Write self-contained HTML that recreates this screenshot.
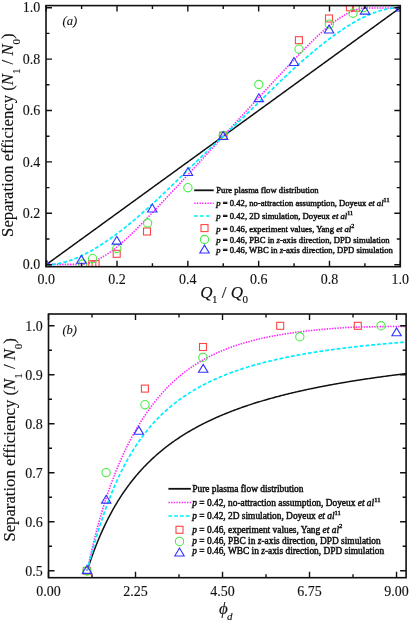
<!DOCTYPE html><html><head><meta charset="utf-8"><style>
html,body{margin:0;padding:0;background:#fff;width:410px;height:621px;overflow:hidden}
svg{display:block}
text{font-family:"Liberation Serif","Times New Roman",serif;fill:#111;stroke:#111;stroke-width:0.12px}
.tk{font-size:14px}
.lg{font-size:8.65px;stroke:#111;stroke-width:0.45px}
</style></head><body>
<svg width="410" height="621" viewBox="0 0 410 621">
<rect width="410" height="621" fill="#fff"/>
<polyline points="46.20,264.70 47.09,264.06 47.97,263.41 48.86,262.77 49.75,262.12 50.64,261.48 51.52,260.84 52.41,260.19 53.30,259.55 54.19,258.90 55.07,258.26 55.96,257.61 56.85,256.97 57.74,256.33 58.62,255.68 59.51,255.04 60.40,254.39 61.29,253.75 62.17,253.11 63.06,252.46 63.95,251.82 64.84,251.17 65.72,250.53 66.61,249.89 67.50,249.24 68.39,248.60 69.27,247.95 70.16,247.31 71.05,246.66 71.94,246.02 72.82,245.38 73.71,244.73 74.60,244.09 75.49,243.44 76.37,242.80 77.26,242.16 78.15,241.51 79.04,240.87 79.92,240.22 80.81,239.58 81.70,238.94 82.59,238.29 83.47,237.65 84.36,237.00 85.25,236.36 86.14,235.72 87.02,235.07 87.91,234.43 88.80,233.78 89.69,233.14 90.57,232.49 91.46,231.85 92.35,231.21 93.24,230.56 94.12,229.92 95.01,229.27 95.90,228.63 96.79,227.99 97.67,227.34 98.56,226.70 99.45,226.05 100.34,225.41 101.22,224.77 102.11,224.12 103.00,223.48 103.89,222.83 104.77,222.19 105.66,221.54 106.55,220.90 107.44,220.26 108.32,219.61 109.21,218.97 110.10,218.32 110.99,217.68 111.87,217.04 112.76,216.39 113.65,215.75 114.54,215.10 115.42,214.46 116.31,213.82 117.20,213.17 118.08,212.53 118.97,211.88 119.86,211.24 120.75,210.59 121.63,209.95 122.52,209.31 123.41,208.66 124.30,208.02 125.18,207.37 126.07,206.73 126.96,206.09 127.85,205.44 128.73,204.80 129.62,204.15 130.51,203.51 131.40,202.87 132.28,202.22 133.17,201.58 134.06,200.93 134.95,200.29 135.83,199.64 136.72,199.00 137.61,198.36 138.50,197.71 139.38,197.07 140.27,196.42 141.16,195.78 142.05,195.14 142.93,194.49 143.82,193.85 144.71,193.20 145.60,192.56 146.48,191.92 147.37,191.27 148.26,190.63 149.15,189.98 150.03,189.34 150.92,188.69 151.81,188.05 152.70,187.41 153.58,186.76 154.47,186.12 155.36,185.47 156.25,184.83 157.13,184.19 158.02,183.54 158.91,182.90 159.80,182.25 160.68,181.61 161.57,180.97 162.46,180.32 163.35,179.68 164.23,179.03 165.12,178.39 166.01,177.75 166.90,177.10 167.78,176.46 168.67,175.81 169.56,175.17 170.45,174.52 171.33,173.88 172.22,173.24 173.11,172.59 174.00,171.95 174.88,171.30 175.77,170.66 176.66,170.02 177.55,169.37 178.43,168.73 179.32,168.08 180.21,167.44 181.10,166.80 181.98,166.15 182.87,165.51 183.76,164.86 184.65,164.22 185.53,163.57 186.42,162.93 187.31,162.29 188.19,161.64 189.08,161.00 189.97,160.35 190.86,159.71 191.74,159.07 192.63,158.42 193.52,157.78 194.41,157.13 195.29,156.49 196.18,155.85 197.07,155.20 197.96,154.56 198.84,153.91 199.73,153.27 200.62,152.62 201.51,151.98 202.39,151.34 203.28,150.69 204.17,150.05 205.06,149.40 205.94,148.76 206.83,148.12 207.72,147.47 208.61,146.83 209.49,146.18 210.38,145.54 211.27,144.90 212.16,144.25 213.04,143.61 213.93,142.96 214.82,142.32 215.71,141.67 216.59,141.03 217.48,140.39 218.37,139.74 219.26,139.10 220.14,138.45 221.03,137.81 221.92,137.17 222.81,136.52 223.69,135.88 224.58,135.23 225.47,134.59 226.36,133.95 227.24,133.30 228.13,132.66 229.02,132.01 229.91,131.37 230.79,130.73 231.68,130.08 232.57,129.44 233.46,128.79 234.34,128.15 235.23,127.50 236.12,126.86 237.01,126.22 237.89,125.57 238.78,124.93 239.67,124.28 240.56,123.64 241.44,123.00 242.33,122.35 243.22,121.71 244.11,121.06 244.99,120.42 245.88,119.78 246.77,119.13 247.66,118.49 248.54,117.84 249.43,117.20 250.32,116.55 251.21,115.91 252.09,115.27 252.98,114.62 253.87,113.98 254.76,113.33 255.64,112.69 256.53,112.05 257.42,111.40 258.31,110.76 259.19,110.11 260.08,109.47 260.97,108.83 261.85,108.18 262.74,107.54 263.63,106.89 264.52,106.25 265.40,105.60 266.29,104.96 267.18,104.32 268.07,103.67 268.95,103.03 269.84,102.38 270.73,101.74 271.62,101.10 272.50,100.45 273.39,99.81 274.28,99.16 275.17,98.52 276.05,97.88 276.94,97.23 277.83,96.59 278.72,95.94 279.60,95.30 280.49,94.65 281.38,94.01 282.27,93.37 283.15,92.72 284.04,92.08 284.93,91.43 285.82,90.79 286.70,90.15 287.59,89.50 288.48,88.86 289.37,88.21 290.25,87.57 291.14,86.93 292.03,86.28 292.92,85.64 293.80,84.99 294.69,84.35 295.58,83.71 296.47,83.06 297.35,82.42 298.24,81.77 299.13,81.13 300.02,80.48 300.90,79.84 301.79,79.20 302.68,78.55 303.57,77.91 304.45,77.26 305.34,76.62 306.23,75.98 307.12,75.33 308.00,74.69 308.89,74.04 309.78,73.40 310.67,72.76 311.55,72.11 312.44,71.47 313.33,70.82 314.22,70.18 315.10,69.53 315.99,68.89 316.88,68.25 317.77,67.60 318.65,66.96 319.54,66.31 320.43,65.67 321.32,65.03 322.20,64.38 323.09,63.74 323.98,63.09 324.87,62.45 325.75,61.81 326.64,61.16 327.53,60.52 328.42,59.87 329.30,59.23 330.19,58.58 331.08,57.94 331.96,57.30 332.85,56.65 333.74,56.01 334.63,55.36 335.51,54.72 336.40,54.08 337.29,53.43 338.18,52.79 339.06,52.14 339.95,51.50 340.84,50.86 341.73,50.21 342.61,49.57 343.50,48.92 344.39,48.28 345.28,47.63 346.16,46.99 347.05,46.35 347.94,45.70 348.83,45.06 349.71,44.41 350.60,43.77 351.49,43.13 352.38,42.48 353.26,41.84 354.15,41.19 355.04,40.55 355.93,39.91 356.81,39.26 357.70,38.62 358.59,37.97 359.48,37.33 360.36,36.68 361.25,36.04 362.14,35.40 363.03,34.75 363.91,34.11 364.80,33.46 365.69,32.82 366.58,32.18 367.46,31.53 368.35,30.89 369.24,30.24 370.13,29.60 371.01,28.96 371.90,28.31 372.79,27.67 373.68,27.02 374.56,26.38 375.45,25.74 376.34,25.09 377.23,24.45 378.11,23.80 379.00,23.16 379.89,22.51 380.78,21.87 381.66,21.23 382.55,20.58 383.44,19.94 384.33,19.29 385.21,18.65 386.10,18.01 386.99,17.36 387.88,16.72 388.76,16.07 389.65,15.43 390.54,14.79 391.43,14.14 392.31,13.50 393.20,12.85 394.09,12.21 394.98,11.56 395.86,10.92 396.75,10.28 397.64,9.63 398.53,8.99 399.41,8.34 400.30,7.70" fill="none" stroke="#111" stroke-width="1.5"/>
<polyline points="46.20,264.38 47.09,264.38 47.97,264.38 48.86,264.38 49.75,264.38 50.64,264.38 51.52,264.38 52.41,264.38 53.30,264.38 54.19,264.38 55.07,264.38 55.96,264.38 56.85,264.38 57.74,264.38 58.62,264.38 59.51,264.38 60.40,264.38 61.29,264.38 62.17,264.38 63.06,264.38 63.95,264.38 64.84,264.38 65.72,264.38 66.61,264.38 67.50,264.38 68.39,264.38 69.27,264.38 70.16,264.38 71.05,264.38 71.94,264.38 72.82,264.38 73.71,264.38 74.60,264.38 75.49,264.38 76.37,264.38 77.26,264.38 78.15,264.38 79.04,264.38 79.92,264.38 80.81,264.38 81.70,264.36 82.59,264.29 83.47,264.22 84.36,264.14 85.25,264.05 86.14,263.95 87.02,263.74 87.91,263.49 88.80,263.21 89.69,262.92 90.57,262.62 91.46,262.30 92.35,261.96 93.24,261.60 94.12,261.24 95.01,260.85 95.90,260.45 96.79,260.03 97.67,259.60 98.56,259.16 99.45,258.69 100.34,258.22 101.22,257.73 102.11,257.23 103.00,256.71 103.89,256.18 104.77,255.63 105.66,255.07 106.55,254.50 107.44,253.91 108.32,253.32 109.21,252.71 110.10,252.08 110.99,251.45 111.87,250.80 112.76,250.14 113.65,249.47 114.54,248.79 115.42,248.09 116.31,247.39 117.20,246.67 118.08,245.95 118.97,245.21 119.86,244.47 120.75,243.71 121.63,242.95 122.52,242.17 123.41,241.39 124.30,240.60 125.18,239.80 126.07,239.00 126.96,238.18 127.85,237.36 128.73,236.53 129.62,235.69 130.51,234.85 131.40,234.00 132.28,233.15 133.17,232.28 134.06,231.42 134.95,230.54 135.83,229.67 136.72,228.78 137.61,227.89 138.50,227.00 139.38,226.11 140.27,225.21 141.16,224.30 142.05,223.40 142.93,222.48 143.82,221.57 144.71,220.66 145.60,219.74 146.48,218.82 147.37,217.89 148.26,216.97 149.15,216.04 150.03,215.12 150.92,214.19 151.81,213.26 152.70,212.33 153.58,211.40 154.47,210.47 155.36,209.54 156.25,208.60 157.13,207.67 158.02,206.73 158.91,205.80 159.80,204.86 160.68,203.92 161.57,202.98 162.46,202.04 163.35,201.10 164.23,200.16 165.12,199.21 166.01,198.27 166.90,197.32 167.78,196.38 168.67,195.43 169.56,194.49 170.45,193.54 171.33,192.59 172.22,191.64 173.11,190.69 174.00,189.74 174.88,188.79 175.77,187.83 176.66,186.88 177.55,185.93 178.43,184.97 179.32,184.02 180.21,183.06 181.10,182.11 181.98,181.15 182.87,180.19 183.76,179.23 184.65,178.27 185.53,177.32 186.42,176.36 187.31,175.40 188.19,174.43 189.08,173.47 189.97,172.51 190.86,171.55 191.74,170.59 192.63,169.62 193.52,168.66 194.41,167.69 195.29,166.73 196.18,165.76 197.07,164.80 197.96,163.83 198.84,162.87 199.73,161.90 200.62,160.93 201.51,159.97 202.39,159.00 203.28,158.03 204.17,157.06 205.06,156.09 205.94,155.13 206.83,154.16 207.72,153.19 208.61,152.22 209.49,151.25 210.38,150.28 211.27,149.31 212.16,148.34 213.04,147.37 213.93,146.40 214.82,145.43 215.71,144.46 216.59,143.48 217.48,142.51 218.37,141.54 219.26,140.57 220.14,139.60 221.03,138.63 221.92,137.66 222.81,136.69 223.69,135.71 224.58,134.74 225.47,133.77 226.36,132.80 227.24,131.83 228.13,130.86 229.02,129.89 229.91,128.92 230.79,127.94 231.68,126.97 232.57,126.00 233.46,125.03 234.34,124.06 235.23,123.09 236.12,122.12 237.01,121.15 237.89,120.18 238.78,119.21 239.67,118.24 240.56,117.27 241.44,116.31 242.33,115.34 243.22,114.37 244.11,113.40 244.99,112.43 245.88,111.47 246.77,110.50 247.66,109.53 248.54,108.57 249.43,107.60 250.32,106.64 251.21,105.67 252.09,104.71 252.98,103.74 253.87,102.78 254.76,101.81 255.64,100.85 256.53,99.89 257.42,98.93 258.31,97.97 259.19,97.00 260.08,96.04 260.97,95.08 261.85,94.13 262.74,93.17 263.63,92.21 264.52,91.25 265.40,90.29 266.29,89.34 267.18,88.38 268.07,87.43 268.95,86.47 269.84,85.52 270.73,84.57 271.62,83.61 272.50,82.66 273.39,81.71 274.28,80.76 275.17,79.81 276.05,78.86 276.94,77.91 277.83,76.97 278.72,76.02 279.60,75.08 280.49,74.13 281.38,73.19 282.27,72.24 283.15,71.30 284.04,70.36 284.93,69.42 285.82,68.48 286.70,67.54 287.59,66.60 288.48,65.67 289.37,64.73 290.25,63.80 291.14,62.86 292.03,61.93 292.92,61.00 293.80,60.07 294.69,59.14 295.58,58.21 296.47,57.28 297.35,56.36 298.24,55.43 299.13,54.51 300.02,53.58 300.90,52.66 301.79,51.74 302.68,50.83 303.57,49.92 304.45,49.00 305.34,48.10 306.23,47.19 307.12,46.29 308.00,45.40 308.89,44.51 309.78,43.62 310.67,42.73 311.55,41.86 312.44,40.98 313.33,40.12 314.22,39.25 315.10,38.40 315.99,37.55 316.88,36.71 317.77,35.87 318.65,35.04 319.54,34.22 320.43,33.40 321.32,32.60 322.20,31.80 323.09,31.01 323.98,30.23 324.87,29.45 325.75,28.69 326.64,27.93 327.53,27.19 328.42,26.45 329.30,25.73 330.19,25.01 331.08,24.31 331.96,23.61 332.85,22.93 333.74,22.26 334.63,21.60 335.51,20.95 336.40,20.32 337.29,19.69 338.18,19.08 339.06,18.49 339.95,17.90 340.84,17.33 341.73,16.77 342.61,16.22 343.50,15.69 344.39,15.17 345.28,14.67 346.16,14.18 347.05,13.71 347.94,13.24 348.83,12.80 349.71,12.37 350.60,11.95 351.49,11.55 352.38,11.16 353.26,10.80 354.15,10.44 355.04,10.10 355.93,9.78 356.81,9.48 357.70,9.19 358.59,8.91 359.48,8.66 360.36,8.45 361.25,8.35 362.14,8.26 363.03,8.18 363.91,8.11 364.80,8.04 365.69,8.02 366.58,8.02 367.46,8.02 368.35,8.02 369.24,8.02 370.13,8.02 371.01,8.02 371.90,8.02 372.79,8.02 373.68,8.02 374.56,8.02 375.45,8.02 376.34,8.02 377.23,8.02 378.11,8.02 379.00,8.02 379.89,8.02 380.78,8.02 381.66,8.02 382.55,8.02 383.44,8.02 384.33,8.02 385.21,8.02 386.10,8.02 386.99,8.02 387.88,8.02 388.76,8.02 389.65,8.02 390.54,8.02 391.43,8.02 392.31,8.02 393.20,8.02 394.09,8.02 394.98,8.02 395.86,8.02 396.75,8.02 397.64,8.02 398.53,8.02 399.41,8.02 400.30,8.02" fill="none" stroke="#ff22ff" stroke-width="1.6" stroke-dasharray="1.4 1.25"/>
<polyline points="46.20,264.70 47.09,264.70 47.97,264.70 48.86,264.70 49.75,264.69 50.64,264.63 51.52,264.56 52.41,264.48 53.30,264.38 54.19,264.27 55.07,264.15 55.96,264.02 56.85,263.88 57.74,263.73 58.62,263.56 59.51,263.39 60.40,263.20 61.29,263.00 62.17,262.80 63.06,262.58 63.95,262.35 64.84,262.11 65.72,261.86 66.61,261.60 67.50,261.33 68.39,261.05 69.27,260.76 70.16,260.46 71.05,260.15 71.94,259.83 72.82,259.51 73.71,259.17 74.60,258.82 75.49,258.47 76.37,258.11 77.26,257.73 78.15,257.35 79.04,256.96 79.92,256.56 80.81,256.15 81.70,255.74 82.59,255.31 83.47,254.88 84.36,254.44 85.25,254.00 86.14,253.54 87.02,253.08 87.91,252.61 88.80,252.13 89.69,251.64 90.57,251.15 91.46,250.65 92.35,250.14 93.24,249.63 94.12,249.11 95.01,248.58 95.90,248.05 96.79,247.51 97.67,246.96 98.56,246.41 99.45,245.85 100.34,245.28 101.22,244.71 102.11,244.13 103.00,243.55 103.89,242.96 104.77,242.37 105.66,241.77 106.55,241.16 107.44,240.55 108.32,239.94 109.21,239.32 110.10,238.69 110.99,238.06 111.87,237.43 112.76,236.79 113.65,236.14 114.54,235.49 115.42,234.84 116.31,234.18 117.20,233.52 118.08,232.85 118.97,232.18 119.86,231.50 120.75,230.82 121.63,230.13 122.52,229.44 123.41,228.75 124.30,228.05 125.18,227.35 126.07,226.64 126.96,225.93 127.85,225.21 128.73,224.50 129.62,223.77 130.51,223.05 131.40,222.31 132.28,221.58 133.17,220.84 134.06,220.10 134.95,219.35 135.83,218.60 136.72,217.85 137.61,217.09 138.50,216.33 139.38,215.57 140.27,214.80 141.16,214.03 142.05,213.25 142.93,212.48 143.82,211.69 144.71,210.91 145.60,210.12 146.48,209.33 147.37,208.54 148.26,207.74 149.15,206.94 150.03,206.14 150.92,205.33 151.81,204.52 152.70,203.71 153.58,202.89 154.47,202.08 155.36,201.26 156.25,200.43 157.13,199.61 158.02,198.78 158.91,197.95 159.80,197.11 160.68,196.28 161.57,195.44 162.46,194.60 163.35,193.76 164.23,192.91 165.12,192.06 166.01,191.21 166.90,190.36 167.78,189.51 168.67,188.65 169.56,187.80 170.45,186.94 171.33,186.08 172.22,185.22 173.11,184.36 174.00,183.50 174.88,182.63 175.77,181.77 176.66,180.90 177.55,180.04 178.43,179.17 179.32,178.30 180.21,177.43 181.10,176.56 181.98,175.70 182.87,174.83 183.76,173.96 184.65,173.09 185.53,172.22 186.42,171.35 187.31,170.48 188.19,169.62 189.08,168.75 189.97,167.88 190.86,167.02 191.74,166.15 192.63,165.29 193.52,164.43 194.41,163.56 195.29,162.70 196.18,161.84 197.07,160.98 197.96,160.13 198.84,159.27 199.73,158.42 200.62,157.57 201.51,156.72 202.39,155.87 203.28,155.02 204.17,154.17 205.06,153.33 205.94,152.49 206.83,151.64 207.72,150.80 208.61,149.96 209.49,149.12 210.38,148.29 211.27,147.45 212.16,146.61 213.04,145.78 213.93,144.94 214.82,144.11 215.71,143.27 216.59,142.44 217.48,141.61 218.37,140.77 219.26,139.94 220.14,139.11 221.03,138.28 221.92,137.45 222.81,136.62 223.69,135.78 224.58,134.95 225.47,134.12 226.36,133.29 227.24,132.46 228.13,131.63 229.02,130.79 229.91,129.96 230.79,129.13 231.68,128.29 232.57,127.46 233.46,126.62 234.34,125.79 235.23,124.95 236.12,124.11 237.01,123.28 237.89,122.44 238.78,121.60 239.67,120.76 240.56,119.91 241.44,119.07 242.33,118.23 243.22,117.38 244.11,116.53 244.99,115.68 245.88,114.83 246.77,113.98 247.66,113.13 248.54,112.27 249.43,111.42 250.32,110.56 251.21,109.70 252.09,108.84 252.98,107.97 253.87,107.11 254.76,106.25 255.64,105.38 256.53,104.52 257.42,103.65 258.31,102.78 259.19,101.92 260.08,101.05 260.97,100.18 261.85,99.31 262.74,98.44 263.63,97.57 264.52,96.70 265.40,95.84 266.29,94.97 267.18,94.10 268.07,93.23 268.95,92.36 269.84,91.50 270.73,90.63 271.62,89.77 272.50,88.90 273.39,88.04 274.28,87.18 275.17,86.32 276.05,85.46 276.94,84.60 277.83,83.75 278.72,82.89 279.60,82.04 280.49,81.19 281.38,80.34 282.27,79.49 283.15,78.64 284.04,77.80 284.93,76.96 285.82,76.12 286.70,75.29 287.59,74.45 288.48,73.62 289.37,72.79 290.25,71.97 291.14,71.14 292.03,70.32 292.92,69.51 293.80,68.69 294.69,67.88 295.58,67.07 296.47,66.26 297.35,65.46 298.24,64.66 299.13,63.86 300.02,63.07 300.90,62.28 301.79,61.49 302.68,60.71 303.57,59.92 304.45,59.15 305.34,58.37 306.23,57.60 307.12,56.83 308.00,56.07 308.89,55.31 309.78,54.55 310.67,53.80 311.55,53.05 312.44,52.30 313.33,51.56 314.22,50.82 315.10,50.09 315.99,49.35 316.88,48.63 317.77,47.90 318.65,47.19 319.54,46.47 320.43,45.76 321.32,45.05 322.20,44.35 323.09,43.65 323.98,42.96 324.87,42.27 325.75,41.58 326.64,40.90 327.53,40.22 328.42,39.55 329.30,38.88 330.19,38.22 331.08,37.56 331.96,36.91 332.85,36.26 333.74,35.61 334.63,34.97 335.51,34.34 336.40,33.71 337.29,33.08 338.18,32.46 339.06,31.85 339.95,31.24 340.84,30.63 341.73,30.03 342.61,29.44 343.50,28.85 344.39,28.27 345.28,27.69 346.16,27.12 347.05,26.55 347.94,25.99 348.83,25.44 349.71,24.89 350.60,24.35 351.49,23.82 352.38,23.29 353.26,22.77 354.15,22.26 355.04,21.75 355.93,21.25 356.81,20.76 357.70,20.27 358.59,19.79 359.48,19.32 360.36,18.86 361.25,18.40 362.14,17.96 363.03,17.52 363.91,17.09 364.80,16.66 365.69,16.25 366.58,15.84 367.46,15.44 368.35,15.05 369.24,14.67 370.13,14.29 371.01,13.93 371.90,13.58 372.79,13.23 373.68,12.89 374.56,12.57 375.45,12.25 376.34,11.94 377.23,11.64 378.11,11.35 379.00,11.07 379.89,10.80 380.78,10.54 381.66,10.29 382.55,10.05 383.44,9.82 384.33,9.60 385.21,9.40 386.10,9.20 386.99,9.01 387.88,8.84 388.76,8.67 389.65,8.52 390.54,8.38 391.43,8.25 392.31,8.13 393.20,8.02 394.09,7.92 394.98,7.84 395.86,7.77 396.75,7.71 397.64,7.70 398.53,7.70 399.41,7.70 400.30,7.70" fill="none" stroke="#00eeff" stroke-width="1.7" stroke-dasharray="3.8 2.0"/>
<defs><clipPath id="ca"><rect x="46.0" y="5.6" width="354.30" height="261.10"/></clipPath><clipPath id="cb"><rect x="48.5" y="314.0" width="357.60" height="263.70"/></clipPath></defs>
<g clip-path="url(#ca)">
<rect x="88.80" y="260.70" width="7.0" height="7.0" fill="none" stroke="#ff4444" stroke-width="1.1"/>
<rect x="92.10" y="260.70" width="7.0" height="7.0" fill="none" stroke="#ff4444" stroke-width="1.1"/>
<rect x="113.20" y="250.30" width="7.0" height="7.0" fill="none" stroke="#ff4444" stroke-width="1.1"/>
<rect x="143.50" y="228.00" width="7.0" height="7.0" fill="none" stroke="#ff4444" stroke-width="1.1"/>
<rect x="219.70" y="132.10" width="7.0" height="7.0" fill="none" stroke="#ff4444" stroke-width="1.1"/>
<rect x="295.40" y="36.70" width="7.0" height="7.0" fill="none" stroke="#ff4444" stroke-width="1.1"/>
<rect x="325.50" y="15.00" width="7.0" height="7.0" fill="none" stroke="#ff4444" stroke-width="1.1"/>
<rect x="346.40" y="3.80" width="7.0" height="7.0" fill="none" stroke="#ff4444" stroke-width="1.1"/>
<rect x="352.50" y="4.20" width="7.0" height="7.0" fill="none" stroke="#ff4444" stroke-width="1.1"/>
<circle cx="82.70" cy="264.00" r="4.15" fill="none" stroke="#44ee44" stroke-width="1.1"/>
<circle cx="92.60" cy="258.70" r="4.15" fill="none" stroke="#44ee44" stroke-width="1.1"/>
<circle cx="116.80" cy="248.50" r="4.15" fill="none" stroke="#44ee44" stroke-width="1.1"/>
<circle cx="147.60" cy="223.00" r="4.15" fill="none" stroke="#44ee44" stroke-width="1.1"/>
<circle cx="187.90" cy="187.70" r="4.15" fill="none" stroke="#44ee44" stroke-width="1.1"/>
<circle cx="223.20" cy="135.60" r="4.15" fill="none" stroke="#44ee44" stroke-width="1.1"/>
<circle cx="258.80" cy="84.50" r="4.15" fill="none" stroke="#44ee44" stroke-width="1.1"/>
<circle cx="299.00" cy="49.20" r="4.15" fill="none" stroke="#44ee44" stroke-width="1.1"/>
<circle cx="329.30" cy="24.10" r="4.15" fill="none" stroke="#44ee44" stroke-width="1.1"/>
<circle cx="353.00" cy="13.20" r="4.15" fill="none" stroke="#44ee44" stroke-width="1.1"/>
<circle cx="363.30" cy="7.60" r="4.15" fill="none" stroke="#44ee44" stroke-width="1.1"/>
<polygon points="46.20,259.55 50.90,267.45 41.50,267.45" fill="none" stroke="#3333ff" stroke-width="1.1"/>
<polygon points="81.40,255.35 86.10,263.25 76.70,263.25" fill="none" stroke="#3333ff" stroke-width="1.1"/>
<polygon points="116.80,236.25 121.50,244.15 112.10,244.15" fill="none" stroke="#3333ff" stroke-width="1.1"/>
<polygon points="152.30,204.05 157.00,211.95 147.60,211.95" fill="none" stroke="#3333ff" stroke-width="1.1"/>
<polygon points="188.00,167.55 192.70,175.45 183.30,175.45" fill="none" stroke="#3333ff" stroke-width="1.1"/>
<polygon points="223.20,131.65 227.90,139.55 218.50,139.55" fill="none" stroke="#3333ff" stroke-width="1.1"/>
<polygon points="258.80,93.75 263.50,101.65 254.10,101.65" fill="none" stroke="#3333ff" stroke-width="1.1"/>
<polygon points="293.90,57.55 298.60,65.45 289.20,65.45" fill="none" stroke="#3333ff" stroke-width="1.1"/>
<polygon points="329.10,25.15 333.80,33.05 324.40,33.05" fill="none" stroke="#3333ff" stroke-width="1.1"/>
<polygon points="365.00,6.25 369.70,14.15 360.30,14.15" fill="none" stroke="#3333ff" stroke-width="1.1"/>
<polygon points="400.30,3.05 405.00,10.95 395.60,10.95" fill="none" stroke="#3333ff" stroke-width="1.1"/>
</g>
<path d="M46.0,264.70h6M400.3,264.70h-6M46.20,266.7v-6M46.20,5.6v6M46.0,239.00h3.5M400.3,239.00h-3.5M81.61,266.7v-3.5M81.61,5.6v3.5M46.0,213.30h6M400.3,213.30h-6M117.02,266.7v-6M117.02,5.6v6M46.0,187.60h3.5M400.3,187.60h-3.5M152.43,266.7v-3.5M152.43,5.6v3.5M46.0,161.90h6M400.3,161.90h-6M187.84,266.7v-6M187.84,5.6v6M46.0,136.20h3.5M400.3,136.20h-3.5M223.25,266.7v-3.5M223.25,5.6v3.5M46.0,110.50h6M400.3,110.50h-6M258.66,266.7v-6M258.66,5.6v6M46.0,84.80h3.5M400.3,84.80h-3.5M294.07,266.7v-3.5M294.07,5.6v3.5M46.0,59.10h6M400.3,59.10h-6M329.48,266.7v-6M329.48,5.6v6M46.0,33.40h3.5M400.3,33.40h-3.5M364.89,266.7v-3.5M364.89,5.6v3.5M46.0,7.70h6M400.3,7.70h-6M400.30,266.7v-6M400.30,5.6v6" stroke="#111" stroke-width="1.4" fill="none"/>
<rect x="46.0" y="5.6" width="354.30" height="261.10" fill="none" stroke="#111" stroke-width="1.6"/>
<text class="tk" x="40.3" y="269.40" text-anchor="end">0.0</text>
<text class="tk" x="46.20" y="284" text-anchor="middle">0.0</text>
<text class="tk" x="40.3" y="218.00" text-anchor="end">0.2</text>
<text class="tk" x="117.02" y="284" text-anchor="middle">0.2</text>
<text class="tk" x="40.3" y="166.60" text-anchor="end">0.4</text>
<text class="tk" x="187.84" y="284" text-anchor="middle">0.4</text>
<text class="tk" x="40.3" y="115.20" text-anchor="end">0.6</text>
<text class="tk" x="258.66" y="284" text-anchor="middle">0.6</text>
<text class="tk" x="40.3" y="63.80" text-anchor="end">0.8</text>
<text class="tk" x="329.48" y="284" text-anchor="middle">0.8</text>
<text class="tk" x="40.3" y="12.40" text-anchor="end">1.0</text>
<text class="tk" x="400.30" y="284" text-anchor="middle">1.0</text>
<text x="62.5" y="24.6" style="font-size:12.5px;font-style:italic">(a)</text>
<text x="200.3" y="297.5" style="font-size:17px"><tspan font-style="italic">Q</tspan><tspan font-size="11" dy="5" dx="-0.5">1</tspan><tspan dy="-5"> / </tspan><tspan font-style="italic">Q</tspan><tspan font-size="11" dy="5" dx="-0.5">0</tspan></text>
<text transform="translate(13.2,236.9) rotate(-90)" style="font-size:16.7px">Separation efficiency (<tspan font-style="italic">N</tspan><tspan font-size="11" dy="6.5">1</tspan><tspan dy="-6.5"> / </tspan><tspan font-style="italic">N</tspan><tspan font-size="11" dy="6.5">0</tspan><tspan dy="-6.5">)</tspan></text>
<line x1="194.2" y1="190.30" x2="213.7" y2="190.30" stroke="#111" stroke-width="1.8"/>
<line x1="194.2" y1="203.20" x2="213.7" y2="203.20" stroke="#ff22ff" stroke-width="1.6" stroke-dasharray="1.4 1.25"/>
<line x1="194.2" y1="216.00" x2="210.0" y2="216.00" stroke="#00eeff" stroke-width="1.7" stroke-dasharray="3.8 2.0"/>
<rect x="201.00" y="224.60" width="7.0" height="7.0" fill="none" stroke="#ff4444" stroke-width="1.1"/>
<circle cx="204.50" cy="239.50" r="4.15" fill="none" stroke="#44ee44" stroke-width="1.1"/>
<polygon points="204.50,245.15 209.20,253.05 199.80,253.05" fill="none" stroke="#3333ff" stroke-width="1.1"/>
<text class="lg" style="font-size:8.65px" x="216.3" y="193.40">Pure plasma flow distribution</text>
<text class="lg" style="font-size:8.65px" x="216.3" y="206.10"><tspan font-style="italic">p</tspan> = 0.42, no-attraction assumption, Doyeux <tspan font-style="italic">et al</tspan><tspan font-size="6.05" dy="-3.89">11</tspan></text>
<text class="lg" style="font-size:8.65px" x="216.3" y="218.60"><tspan font-style="italic">p</tspan> = 0.42, 2D simulation, Doyeux <tspan font-style="italic">et al</tspan><tspan font-size="6.05" dy="-3.89">11</tspan></text>
<text class="lg" style="font-size:8.65px" x="216.3" y="231.80"><tspan font-style="italic">p</tspan> = 0.46, experiment values, Yang <tspan font-style="italic">et al</tspan><tspan font-size="6.05" dy="-3.89">2</tspan></text>
<text class="lg" style="font-size:8.65px" x="216.3" y="242.70"><tspan font-style="italic">p</tspan> = 0.46, PBC in <tspan font-style="italic">z</tspan>-axis direction, DPD simulation</text>
<text class="lg" style="font-size:8.65px" x="216.3" y="253.40"><tspan font-style="italic">p</tspan> = 0.46, WBC in <tspan font-style="italic">z</tspan>-axis direction, DPD simulation</text>
<polyline points="87.17,570.80 87.97,568.29 88.77,565.84 89.57,563.43 90.37,561.07 91.17,558.76 91.97,556.49 92.77,554.27 93.56,552.09 94.36,549.95 95.16,547.85 95.96,545.79 96.76,543.77 97.56,541.78 98.36,539.83 99.16,537.92 99.96,536.03 100.76,534.19 101.56,532.37 102.36,530.59 103.16,528.83 103.96,527.11 104.76,525.41 105.55,523.75 106.35,522.11 107.15,520.49 107.95,518.91 108.75,517.35 109.55,515.81 110.35,514.30 111.15,512.81 111.95,511.35 112.75,509.91 113.55,508.49 114.35,507.09 115.15,505.72 115.95,504.36 116.74,503.03 117.54,501.71 118.34,500.42 119.14,499.14 119.94,497.88 120.74,496.64 121.54,495.42 122.34,494.21 123.14,493.03 123.94,491.85 124.74,490.70 125.54,489.56 126.34,488.44 127.14,487.33 127.94,486.24 128.73,485.16 129.53,484.09 130.33,483.04 131.13,482.01 131.93,480.98 132.73,479.97 133.53,478.98 134.33,478.00 135.13,477.02 135.93,476.07 136.73,475.12 137.53,474.18 138.33,473.26 139.13,472.35 139.93,471.45 140.72,470.56 141.52,469.68 142.32,468.81 143.12,467.96 143.92,467.11 144.72,466.27 145.52,465.44 146.32,464.63 147.12,463.82 147.92,463.02 148.72,462.23 149.52,461.45 150.32,460.68 151.12,459.91 151.92,459.16 152.71,458.41 153.51,457.67 154.31,456.95 155.11,456.22 155.91,455.51 156.71,454.80 157.51,454.11 158.31,453.42 159.11,452.73 159.91,452.06 160.71,451.39 161.51,450.73 162.31,450.07 163.11,449.42 163.91,448.78 164.70,448.15 165.50,447.52 166.30,446.90 167.10,446.28 167.90,445.67 168.70,445.07 169.50,444.47 170.30,443.88 171.10,443.30 171.90,442.72 172.70,442.14 173.50,441.57 174.30,441.01 175.10,440.45 175.89,439.90 176.69,439.36 177.49,438.81 178.29,438.28 179.09,437.75 179.89,437.22 180.69,436.70 181.49,436.18 182.29,435.67 183.09,435.16 183.89,434.66 184.69,434.16 185.49,433.67 186.29,433.18 187.09,432.70 187.88,432.22 188.68,431.74 189.48,431.27 190.28,430.80 191.08,430.34 191.88,429.88 192.68,429.43 193.48,428.98 194.28,428.53 195.08,428.09 195.88,427.65 196.68,427.21 197.48,426.78 198.28,426.35 199.08,425.93 199.87,425.50 200.67,425.09 201.47,424.67 202.27,424.26 203.07,423.85 203.87,423.45 204.67,423.05 205.47,422.65 206.27,422.26 207.07,421.87 207.87,421.48 208.67,421.10 209.47,420.71 210.27,420.34 211.07,419.96 211.86,419.59 212.66,419.22 213.46,418.85 214.26,418.49 215.06,418.13 215.86,417.77 216.66,417.41 217.46,417.06 218.26,416.71 219.06,416.36 219.86,416.02 220.66,415.68 221.46,415.34 222.26,415.00 223.05,414.67 223.85,414.33 224.65,414.00 225.45,413.68 226.25,413.35 227.05,413.03 227.85,412.71 228.65,412.39 229.45,412.08 230.25,411.76 231.05,411.45 231.85,411.15 232.65,410.84 233.45,410.54 234.25,410.23 235.04,409.93 235.84,409.64 236.64,409.34 237.44,409.05 238.24,408.76 239.04,408.47 239.84,408.18 240.64,407.89 241.44,407.61 242.24,407.33 243.04,407.05 243.84,406.77 244.64,406.50 245.44,406.22 246.24,405.95 247.03,405.68 247.83,405.41 248.63,405.15 249.43,404.88 250.23,404.62 251.03,404.36 251.83,404.10 252.63,403.84 253.43,403.58 254.23,403.33 255.03,403.08 255.83,402.83 256.63,402.58 257.43,402.33 258.23,402.08 259.02,401.84 259.82,401.60 260.62,401.35 261.42,401.11 262.22,400.87 263.02,400.64 263.82,400.40 264.62,400.17 265.42,399.94 266.22,399.70 267.02,399.47 267.82,399.25 268.62,399.02 269.42,398.79 270.22,398.57 271.01,398.35 271.81,398.13 272.61,397.91 273.41,397.69 274.21,397.47 275.01,397.25 275.81,397.04 276.61,396.83 277.41,396.61 278.21,396.40 279.01,396.19 279.81,395.98 280.61,395.78 281.41,395.57 282.20,395.37 283.00,395.16 283.80,394.96 284.60,394.76 285.40,394.56 286.20,394.36 287.00,394.16 287.80,393.97 288.60,393.77 289.40,393.58 290.20,393.38 291.00,393.19 291.80,393.00 292.60,392.81 293.40,392.62 294.19,392.43 294.99,392.25 295.79,392.06 296.59,391.88 297.39,391.69 298.19,391.51 298.99,391.33 299.79,391.15 300.59,390.97 301.39,390.79 302.19,390.61 302.99,390.44 303.79,390.26 304.59,390.08 305.39,389.91 306.18,389.74 306.98,389.57 307.78,389.39 308.58,389.22 309.38,389.06 310.18,388.89 310.98,388.72 311.78,388.55 312.58,388.39 313.38,388.22 314.18,388.06 314.98,387.90 315.78,387.73 316.58,387.57 317.38,387.41 318.17,387.25 318.97,387.09 319.77,386.93 320.57,386.78 321.37,386.62 322.17,386.47 322.97,386.31 323.77,386.16 324.57,386.00 325.37,385.85 326.17,385.70 326.97,385.55 327.77,385.40 328.57,385.25 329.36,385.10 330.16,384.95 330.96,384.80 331.76,384.66 332.56,384.51 333.36,384.37 334.16,384.22 334.96,384.08 335.76,383.94 336.56,383.79 337.36,383.65 338.16,383.51 338.96,383.37 339.76,383.23 340.56,383.09 341.35,382.95 342.15,382.82 342.95,382.68 343.75,382.54 344.55,382.41 345.35,382.27 346.15,382.14 346.95,382.01 347.75,381.87 348.55,381.74 349.35,381.61 350.15,381.48 350.95,381.35 351.75,381.22 352.55,381.09 353.34,380.96 354.14,380.83 354.94,380.70 355.74,380.58 356.54,380.45 357.34,380.33 358.14,380.20 358.94,380.08 359.74,379.95 360.54,379.83 361.34,379.71 362.14,379.58 362.94,379.46 363.74,379.34 364.54,379.22 365.33,379.10 366.13,378.98 366.93,378.86 367.73,378.74 368.53,378.62 369.33,378.51 370.13,378.39 370.93,378.27 371.73,378.16 372.53,378.04 373.33,377.93 374.13,377.81 374.93,377.70 375.73,377.59 376.53,377.47 377.32,377.36 378.12,377.25 378.92,377.14 379.72,377.03 380.52,376.92 381.32,376.81 382.12,376.70 382.92,376.59 383.72,376.48 384.52,376.37 385.32,376.26 386.12,376.16 386.92,376.05 387.72,375.94 388.51,375.84 389.31,375.73 390.11,375.63 390.91,375.52 391.71,375.42 392.51,375.31 393.31,375.21 394.11,375.11 394.91,375.01 395.71,374.90 396.51,374.80 397.31,374.70 398.11,374.60 398.91,374.50 399.71,374.40 400.50,374.30 401.30,374.20 402.10,374.10 402.90,374.01 403.70,373.91 404.50,373.81 405.30,373.71 406.10,373.62" fill="none" stroke="#111" stroke-width="1.5"/>
<polyline points="87.17,570.80 87.97,567.02 88.77,563.32 89.57,559.69 90.37,556.13 91.17,552.65 91.97,549.23 92.77,545.88 93.56,542.60 94.36,539.38 95.16,536.22 95.96,533.12 96.76,530.08 97.56,527.09 98.36,524.16 99.16,521.29 99.96,518.47 100.76,515.70 101.56,512.97 102.36,510.30 103.16,507.68 103.96,505.10 104.76,502.56 105.55,500.07 106.35,497.63 107.15,495.22 107.95,492.86 108.75,490.53 109.55,488.25 110.35,486.00 111.15,483.79 111.95,481.62 112.75,479.48 113.55,477.38 114.35,475.31 115.15,473.27 115.95,471.26 116.74,469.29 117.54,467.35 118.34,465.44 119.14,463.56 119.94,461.70 120.74,459.88 121.54,458.08 122.34,456.31 123.14,454.56 123.94,452.85 124.74,451.15 125.54,449.48 126.34,447.84 127.14,446.22 127.94,444.62 128.73,443.05 129.53,441.50 130.33,439.97 131.13,438.46 131.93,436.97 132.73,435.50 133.53,434.06 134.33,432.63 135.13,431.22 135.93,429.83 136.73,428.46 137.53,427.11 138.33,425.78 139.13,424.46 139.93,423.16 140.72,421.88 141.52,420.62 142.32,419.37 143.12,418.13 143.92,416.92 144.72,415.72 145.52,414.53 146.32,413.36 147.12,412.20 147.92,411.06 148.72,409.94 149.52,408.83 150.32,407.73 151.12,406.65 151.92,405.58 152.71,404.53 153.51,403.49 154.31,402.46 155.11,401.45 155.91,400.45 156.71,399.46 157.51,398.49 158.31,397.53 159.11,396.58 159.91,395.65 160.71,394.73 161.51,393.82 162.31,392.92 163.11,392.03 163.91,391.16 164.70,390.30 165.50,389.45 166.30,388.61 167.10,387.78 167.90,386.96 168.70,386.16 169.50,385.36 170.30,384.58 171.10,383.80 171.90,383.04 172.70,382.28 173.50,381.54 174.30,380.81 175.10,380.08 175.89,379.37 176.69,378.66 177.49,377.97 178.29,377.28 179.09,376.61 179.89,375.94 180.69,375.28 181.49,374.63 182.29,373.99 183.09,373.35 183.89,372.73 184.69,372.11 185.49,371.50 186.29,370.90 187.09,370.31 187.88,369.72 188.68,369.15 189.48,368.58 190.28,368.02 191.08,367.46 191.88,366.91 192.68,366.37 193.48,365.84 194.28,365.31 195.08,364.79 195.88,364.28 196.68,363.78 197.48,363.28 198.28,362.78 199.08,362.30 199.87,361.82 200.67,361.34 201.47,360.88 202.27,360.42 203.07,359.96 203.87,359.51 204.67,359.07 205.47,358.63 206.27,358.20 207.07,357.77 207.87,357.35 208.67,356.93 209.47,356.52 210.27,356.12 211.07,355.72 211.86,355.32 212.66,354.93 213.46,354.55 214.26,354.17 215.06,353.79 215.86,353.42 216.66,353.06 217.46,352.69 218.26,352.34 219.06,351.99 219.86,351.64 220.66,351.30 221.46,350.96 222.26,350.62 223.05,350.29 223.85,349.97 224.65,349.65 225.45,349.33 226.25,349.01 227.05,348.70 227.85,348.40 228.65,348.10 229.45,347.80 230.25,347.50 231.05,347.21 231.85,346.93 232.65,346.64 233.45,346.36 234.25,346.09 235.04,345.81 235.84,345.54 236.64,345.28 237.44,345.01 238.24,344.75 239.04,344.50 239.84,344.24 240.64,343.99 241.44,343.75 242.24,343.50 243.04,343.26 243.84,343.02 244.64,342.79 245.44,342.56 246.24,342.33 247.03,342.10 247.83,341.88 248.63,341.65 249.43,341.44 250.23,341.22 251.03,341.01 251.83,340.80 252.63,340.59 253.43,340.38 254.23,340.18 255.03,339.98 255.83,339.78 256.63,339.58 257.43,339.39 258.23,339.20 259.02,339.01 259.82,338.82 260.62,338.64 261.42,338.46 262.22,338.28 263.02,338.10 263.82,337.93 264.62,337.75 265.42,337.58 266.22,337.41 267.02,337.24 267.82,337.08 268.62,336.91 269.42,336.75 270.22,336.59 271.01,336.44 271.81,336.28 272.61,336.13 273.41,335.97 274.21,335.82 275.01,335.68 275.81,335.53 276.61,335.38 277.41,335.24 278.21,335.10 279.01,334.96 279.81,334.82 280.61,334.68 281.41,334.55 282.20,334.42 283.00,334.28 283.80,334.15 284.60,334.02 285.40,333.90 286.20,333.77 287.00,333.65 287.80,333.52 288.60,333.40 289.40,333.28 290.20,333.17 291.00,333.05 291.80,332.93 292.60,332.82 293.40,332.71 294.19,332.59 294.99,332.48 295.79,332.37 296.59,332.27 297.39,332.16 298.19,332.05 298.99,331.95 299.79,331.85 300.59,331.75 301.39,331.65 302.19,331.55 302.99,331.45 303.79,331.35 304.59,331.26 305.39,331.16 306.18,331.07 306.98,330.98 307.78,330.88 308.58,330.79 309.38,330.71 310.18,330.62 310.98,330.53 311.78,330.44 312.58,330.36 313.38,330.28 314.18,330.19 314.98,330.11 315.78,330.03 316.58,329.95 317.38,329.87 318.17,329.79 318.97,329.71 319.77,329.64 320.57,329.56 321.37,329.49 322.17,329.41 322.97,329.34 323.77,329.27 324.57,329.20 325.37,329.13 326.17,329.06 326.97,328.99 327.77,328.92 328.57,328.86 329.36,328.79 330.16,328.72 330.96,328.66 331.76,328.60 332.56,328.53 333.36,328.47 334.16,328.41 334.96,328.35 335.76,328.29 336.56,328.23 337.36,328.17 338.16,328.11 338.96,328.05 339.76,328.00 340.56,327.94 341.35,327.89 342.15,327.83 342.95,327.78 343.75,327.72 344.55,327.67 345.35,327.62 346.15,327.57 346.95,327.52 347.75,327.47 348.55,327.42 349.35,327.37 350.15,327.33 350.95,327.29 351.75,327.25 352.55,327.23 353.34,327.21 354.14,327.19 354.94,327.17 355.74,327.15 356.54,327.13 357.34,327.11 358.14,327.09 358.94,327.07 359.74,327.06 360.54,327.04 361.34,327.02 362.14,327.00 362.94,326.99 363.74,326.97 364.54,326.95 365.33,326.94 366.13,326.92 366.93,326.91 367.73,326.89 368.53,326.87 369.33,326.86 370.13,326.84 370.93,326.83 371.73,326.81 372.53,326.80 373.33,326.79 374.13,326.77 374.93,326.76 375.73,326.74 376.53,326.73 377.32,326.72 378.12,326.70 378.92,326.69 379.72,326.68 380.52,326.66 381.32,326.65 382.12,326.64 382.92,326.62 383.72,326.61 384.52,326.60 385.32,326.59 386.12,326.58 386.92,326.56 387.72,326.55 388.51,326.54 389.31,326.53 390.11,326.52 390.91,326.51 391.71,326.50 392.51,326.49 393.31,326.48 394.11,326.47 394.91,326.45 395.71,326.44 396.51,326.43 397.31,326.43 398.11,326.43 398.91,326.42 399.71,326.42 400.50,326.42 401.30,326.42 402.10,326.42 402.90,326.42 403.70,326.42 404.50,326.42 405.30,326.42 406.10,326.42" fill="none" stroke="#ff22ff" stroke-width="1.6" stroke-dasharray="1.4 1.25"/>
<polyline points="87.17,570.80 87.97,567.57 88.77,564.39 89.57,561.29 90.37,558.24 91.17,555.24 91.97,552.31 92.77,549.42 93.56,546.58 94.36,543.79 95.16,541.05 95.96,538.36 96.76,535.70 97.56,533.09 98.36,530.52 99.16,527.99 99.96,525.49 100.76,523.03 101.56,520.61 102.36,518.23 103.16,515.88 103.96,513.56 104.76,511.29 105.55,509.05 106.35,506.84 107.15,504.67 107.95,502.53 108.75,500.42 109.55,498.35 110.35,496.32 111.15,494.31 111.95,492.34 112.75,490.39 113.55,488.48 114.35,486.60 115.15,484.75 115.95,482.93 116.74,481.14 117.54,479.38 118.34,477.64 119.14,475.94 119.94,474.26 120.74,472.61 121.54,470.98 122.34,469.38 123.14,467.81 123.94,466.26 124.74,464.74 125.54,463.24 126.34,461.76 127.14,460.31 127.94,458.88 128.73,457.47 129.53,456.09 130.33,454.73 131.13,453.38 131.93,452.06 132.73,450.76 133.53,449.48 134.33,448.22 135.13,446.98 135.93,445.76 136.73,444.56 137.53,443.37 138.33,442.20 139.13,441.05 139.93,439.92 140.72,438.80 141.52,437.70 142.32,436.62 143.12,435.55 143.92,434.50 144.72,433.46 145.52,432.44 146.32,431.43 147.12,430.44 147.92,429.46 148.72,428.49 149.52,427.54 150.32,426.60 151.12,425.68 151.92,424.77 152.71,423.87 153.51,422.98 154.31,422.10 155.11,421.24 155.91,420.39 156.71,419.55 157.51,418.72 158.31,417.90 159.11,417.09 159.91,416.29 160.71,415.51 161.51,414.73 162.31,413.96 163.11,413.21 163.91,412.46 164.70,411.73 165.50,411.00 166.30,410.28 167.10,409.57 167.90,408.87 168.70,408.18 169.50,407.50 170.30,406.82 171.10,406.16 171.90,405.50 172.70,404.85 173.50,404.21 174.30,403.58 175.10,402.95 175.89,402.33 176.69,401.72 177.49,401.12 178.29,400.52 179.09,399.93 179.89,399.35 180.69,398.78 181.49,398.21 182.29,397.65 183.09,397.09 183.89,396.54 184.69,396.00 185.49,395.46 186.29,394.93 187.09,394.41 187.88,393.89 188.68,393.38 189.48,392.87 190.28,392.37 191.08,391.87 191.88,391.38 192.68,390.90 193.48,390.42 194.28,389.95 195.08,389.48 195.88,389.01 196.68,388.56 197.48,388.10 198.28,387.65 199.08,387.21 199.87,386.77 200.67,386.34 201.47,385.91 202.27,385.48 203.07,385.06 203.87,384.64 204.67,384.23 205.47,383.82 206.27,383.42 207.07,383.02 207.87,382.62 208.67,382.23 209.47,381.85 210.27,381.46 211.07,381.08 211.86,380.71 212.66,380.34 213.46,379.97 214.26,379.60 215.06,379.24 215.86,378.89 216.66,378.53 217.46,378.18 218.26,377.83 219.06,377.49 219.86,377.15 220.66,376.81 221.46,376.48 222.26,376.15 223.05,375.82 223.85,375.50 224.65,375.18 225.45,374.86 226.25,374.54 227.05,374.23 227.85,373.92 228.65,373.62 229.45,373.31 230.25,373.01 231.05,372.72 231.85,372.42 232.65,372.13 233.45,371.84 234.25,371.55 235.04,371.27 235.84,370.99 236.64,370.71 237.44,370.43 238.24,370.16 239.04,369.89 239.84,369.62 240.64,369.35 241.44,369.09 242.24,368.82 243.04,368.56 243.84,368.31 244.64,368.05 245.44,367.80 246.24,367.55 247.03,367.30 247.83,367.05 248.63,366.81 249.43,366.57 250.23,366.33 251.03,366.09 251.83,365.86 252.63,365.62 253.43,365.39 254.23,365.16 255.03,364.93 255.83,364.71 256.63,364.48 257.43,364.26 258.23,364.04 259.02,363.82 259.82,363.61 260.62,363.39 261.42,363.18 262.22,362.97 263.02,362.76 263.82,362.55 264.62,362.35 265.42,362.14 266.22,361.94 267.02,361.74 267.82,361.54 268.62,361.34 269.42,361.15 270.22,360.95 271.01,360.76 271.81,360.57 272.61,360.38 273.41,360.19 274.21,360.00 275.01,359.82 275.81,359.63 276.61,359.45 277.41,359.27 278.21,359.09 279.01,358.92 279.81,358.74 280.61,358.56 281.41,358.39 282.20,358.22 283.00,358.05 283.80,357.88 284.60,357.71 285.40,357.54 286.20,357.38 287.00,357.21 287.80,357.05 288.60,356.89 289.40,356.73 290.20,356.57 291.00,356.41 291.80,356.25 292.60,356.10 293.40,355.94 294.19,355.79 294.99,355.63 295.79,355.48 296.59,355.33 297.39,355.18 298.19,355.04 298.99,354.89 299.79,354.74 300.59,354.60 301.39,354.46 302.19,354.31 302.99,354.17 303.79,354.03 304.59,353.89 305.39,353.75 306.18,353.62 306.98,353.48 307.78,353.35 308.58,353.21 309.38,353.08 310.18,352.95 310.98,352.81 311.78,352.68 312.58,352.55 313.38,352.43 314.18,352.30 314.98,352.17 315.78,352.05 316.58,351.92 317.38,351.80 318.17,351.67 318.97,351.55 319.77,351.43 320.57,351.31 321.37,351.19 322.17,351.07 322.97,350.95 323.77,350.83 324.57,350.72 325.37,350.60 326.17,350.49 326.97,350.37 327.77,350.26 328.57,350.15 329.36,350.03 330.16,349.92 330.96,349.81 331.76,349.70 332.56,349.59 333.36,349.49 334.16,349.38 334.96,349.27 335.76,349.17 336.56,349.06 337.36,348.96 338.16,348.85 338.96,348.75 339.76,348.65 340.56,348.55 341.35,348.44 342.15,348.34 342.95,348.24 343.75,348.14 344.55,348.05 345.35,347.95 346.15,347.85 346.95,347.75 347.75,347.66 348.55,347.56 349.35,347.47 350.15,347.37 350.95,347.28 351.75,347.19 352.55,347.10 353.34,347.00 354.14,346.91 354.94,346.82 355.74,346.73 356.54,346.64 357.34,346.55 358.14,346.47 358.94,346.38 359.74,346.29 360.54,346.20 361.34,346.12 362.14,346.03 362.94,345.95 363.74,345.86 364.54,345.78 365.33,345.70 366.13,345.61 366.93,345.53 367.73,345.45 368.53,345.37 369.33,345.29 370.13,345.21 370.93,345.13 371.73,345.05 372.53,344.97 373.33,344.89 374.13,344.81 374.93,344.73 375.73,344.66 376.53,344.58 377.32,344.50 378.12,344.43 378.92,344.35 379.72,344.28 380.52,344.20 381.32,344.13 382.12,344.06 382.92,343.98 383.72,343.91 384.52,343.84 385.32,343.77 386.12,343.70 386.92,343.63 387.72,343.56 388.51,343.49 389.31,343.42 390.11,343.35 390.91,343.28 391.71,343.21 392.51,343.14 393.31,343.07 394.11,343.01 394.91,342.94 395.71,342.87 396.51,342.81 397.31,342.74 398.11,342.68 398.91,342.61 399.71,342.55 400.50,342.48 401.30,342.42 402.10,342.36 402.90,342.29 403.70,342.23 404.50,342.17 405.30,342.11 406.10,342.04" fill="none" stroke="#00eeff" stroke-width="1.7" stroke-dasharray="3.8 2.0"/>
<g clip-path="url(#cb)">
<rect x="83.30" y="567.50" width="7.0" height="7.0" fill="none" stroke="#ff4444" stroke-width="1.1"/>
<rect x="141.40" y="385.10" width="7.0" height="7.0" fill="none" stroke="#ff4444" stroke-width="1.1"/>
<rect x="199.50" y="343.50" width="7.0" height="7.0" fill="none" stroke="#ff4444" stroke-width="1.1"/>
<rect x="276.70" y="322.30" width="7.0" height="7.0" fill="none" stroke="#ff4444" stroke-width="1.1"/>
<rect x="354.30" y="322.30" width="7.0" height="7.0" fill="none" stroke="#ff4444" stroke-width="1.1"/>
<circle cx="86.90" cy="571.00" r="4.15" fill="none" stroke="#44ee44" stroke-width="1.1"/>
<circle cx="106.10" cy="472.60" r="4.15" fill="none" stroke="#44ee44" stroke-width="1.1"/>
<circle cx="145.00" cy="404.70" r="4.15" fill="none" stroke="#44ee44" stroke-width="1.1"/>
<circle cx="202.90" cy="357.40" r="4.15" fill="none" stroke="#44ee44" stroke-width="1.1"/>
<circle cx="299.80" cy="336.80" r="4.15" fill="none" stroke="#44ee44" stroke-width="1.1"/>
<circle cx="381.00" cy="325.80" r="4.15" fill="none" stroke="#44ee44" stroke-width="1.1"/>
<polygon points="87.00,565.45 91.70,573.35 82.30,573.35" fill="none" stroke="#3333ff" stroke-width="1.1"/>
<polygon points="106.20,495.25 110.90,503.15 101.50,503.15" fill="none" stroke="#3333ff" stroke-width="1.1"/>
<polygon points="138.80,426.35 143.50,434.25 134.10,434.25" fill="none" stroke="#3333ff" stroke-width="1.1"/>
<polygon points="203.20,364.35 207.90,372.25 198.50,372.25" fill="none" stroke="#3333ff" stroke-width="1.1"/>
<polygon points="396.60,327.85 401.30,335.75 391.90,335.75" fill="none" stroke="#3333ff" stroke-width="1.1"/>
</g>
<path d="M48.5,570.80h6M406.1,570.80h-6M48.5,546.30h3.5M406.1,546.30h-3.5M48.5,521.80h6M406.1,521.80h-6M48.5,497.30h3.5M406.1,497.30h-3.5M48.5,472.80h6M406.1,472.80h-6M48.5,448.30h3.5M406.1,448.30h-3.5M48.5,423.80h6M406.1,423.80h-6M48.5,399.30h3.5M406.1,399.30h-3.5M48.5,374.80h6M406.1,374.80h-6M48.5,350.30h3.5M406.1,350.30h-3.5M48.5,325.80h6M406.1,325.80h-6M48.50,577.7v-6M48.50,314.0v6M92.00,577.7v-3.5M92.00,314.0v3.5M135.51,577.7v-6M135.51,314.0v6M179.01,577.7v-3.5M179.01,314.0v3.5M222.52,577.7v-6M222.52,314.0v6M266.02,577.7v-3.5M266.02,314.0v3.5M309.52,577.7v-6M309.52,314.0v6M353.03,577.7v-3.5M353.03,314.0v3.5M396.53,577.7v-6M396.53,314.0v6" stroke="#111" stroke-width="1.4" fill="none"/>
<rect x="48.5" y="314.0" width="357.60" height="263.70" fill="none" stroke="#111" stroke-width="1.6"/>
<text class="tk" x="42.8" y="575.50" text-anchor="end">0.5</text>
<text class="tk" x="42.8" y="526.50" text-anchor="end">0.6</text>
<text class="tk" x="42.8" y="477.50" text-anchor="end">0.7</text>
<text class="tk" x="42.8" y="428.50" text-anchor="end">0.8</text>
<text class="tk" x="42.8" y="379.50" text-anchor="end">0.9</text>
<text class="tk" x="42.8" y="330.50" text-anchor="end">1.0</text>
<text class="tk" x="48.50" y="596.2" text-anchor="middle">0.00</text>
<text class="tk" x="135.51" y="596.2" text-anchor="middle">2.25</text>
<text class="tk" x="222.52" y="596.2" text-anchor="middle">4.50</text>
<text class="tk" x="309.52" y="596.2" text-anchor="middle">6.75</text>
<text class="tk" x="396.53" y="596.2" text-anchor="middle">9.00</text>
<text x="62.4" y="333.5" style="font-size:12.5px;font-style:italic">(b)</text>
<text x="219" y="614" style="font-size:17px"><tspan font-style="italic">ϕ</tspan><tspan font-size="11" dy="6" dx="-0.8" font-style="italic">d</tspan></text>
<text transform="translate(15,541.6) rotate(-90)" style="font-size:16.7px">Separation efficiency (<tspan font-style="italic">N</tspan><tspan font-size="11" dy="6.5">1</tspan><tspan dy="-6.5"> / </tspan><tspan font-style="italic">N</tspan><tspan font-size="11" dy="6.5">0</tspan><tspan dy="-6.5">)</tspan></text>
<line x1="168.4" y1="488.80" x2="190.9" y2="488.80" stroke="#111" stroke-width="1.8"/>
<line x1="168.4" y1="502.50" x2="190.9" y2="502.50" stroke="#ff22ff" stroke-width="1.6" stroke-dasharray="1.4 1.25"/>
<line x1="168.4" y1="516.00" x2="189.6" y2="516.00" stroke="#00eeff" stroke-width="1.7" stroke-dasharray="3.8 2.0"/>
<rect x="176.00" y="526.30" width="7.0" height="7.0" fill="none" stroke="#ff4444" stroke-width="1.1"/>
<circle cx="179.50" cy="541.40" r="4.15" fill="none" stroke="#44ee44" stroke-width="1.1"/>
<polygon points="179.50,548.05 184.20,555.95 174.80,555.95" fill="none" stroke="#3333ff" stroke-width="1.1"/>
<text class="lg" style="font-size:9.4px" x="192.3" y="492.00">Pure plasma flow distribution</text>
<text class="lg" style="font-size:9.4px" x="192.3" y="505.90"><tspan font-style="italic">p</tspan> = 0.42, no-attraction assumption, Doyeux <tspan font-style="italic">et al</tspan><tspan font-size="6.58" dy="-4.23">11</tspan></text>
<text class="lg" style="font-size:9.4px" x="192.3" y="519.20"><tspan font-style="italic">p</tspan> = 0.42, 2D simulation, Doyeux <tspan font-style="italic">et al</tspan><tspan font-size="6.58" dy="-4.23">11</tspan></text>
<text class="lg" style="font-size:9.4px" x="192.3" y="532.70"><tspan font-style="italic">p</tspan> = 0.46, experiment values, Yang <tspan font-style="italic">et al</tspan><tspan font-size="6.58" dy="-4.23">2</tspan></text>
<text class="lg" style="font-size:9.4px" x="192.3" y="543.70"><tspan font-style="italic">p</tspan> = 0.46, PBC in <tspan font-style="italic">z</tspan>-axis direction, DPD simulation</text>
<text class="lg" style="font-size:9.4px" x="192.3" y="553.90"><tspan font-style="italic">p</tspan> = 0.46, WBC in <tspan font-style="italic">z</tspan>-axis direction, DPD simulation</text>
</svg></body></html>
